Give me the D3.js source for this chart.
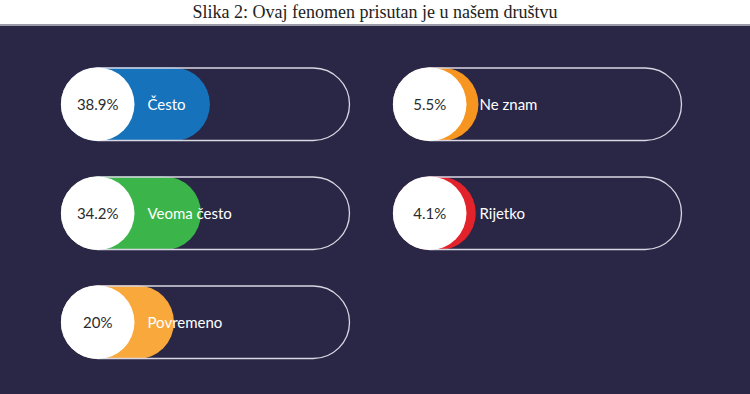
<!DOCTYPE html>
<html>
<head>
<meta charset="utf-8">
<script src="https://cdn.jsdelivr.net/npm/d3@7"></script>
<style>
  html, body { margin: 0; padding: 0; background: #fff; }
  svg { display: block; }
</style>
</head>
<body>
<div id="chart"></div>
<script>
// answers, in the order they are laid out (column by column)
const categories = ["Često", "Veoma često", "Povremeno", "Ne znam", "Rijetko"];
const values = [38.9, 34.2, 20, 5.5, 4.1];
const valueLabels = ["38.9%", "34.2%", "20%", "5.5%", "4.1%"];
const colors = ["#1673bb", "#3bb54a", "#f9a83c", "#f6951f", "#e2232b"];

const title = "Slika 2: Ovaj fenomen prisutan je u našem društvu";

const width = 750, height = 394;
const pillW = 289, pillH = 73.5, r = pillH / 2;
const rowsPerCol = 3;

const svg = d3.select("#chart").append("svg")
    .attr("width", width)
    .attr("height", height);

svg.append("rect")
    .attr("width", width)
    .attr("height", height)
    .attr("fill", "#fff");

svg.append("text")
    .attr("x", width / 2)
    .attr("y", 17.5)
    .attr("text-anchor", "middle")
    .attr("font-family", "'Liberation Serif', serif")
    .attr("font-size", 18)
    .attr("fill", "#222")
    .text(title);

svg.append("rect")
    .attr("y", 24)
    .attr("width", width)
    .attr("height", 2)
    .attr("fill", "#9a99aa");

svg.append("rect")
    .attr("y", 26)
    .attr("width", width)
    .attr("height", height - 26)
    .attr("fill", "#2a2746");

// grid placement
const xCol = d3.scalePoint().domain([0, 1]).range([61, 393]);
const yRow = d3.scalePoint().domain([0, 1, 2]).range([67.5, 285.5]);
// fill length, measured from the left end of the pill
const w = d3.scaleLinear().domain([0, 100]).range([75, 265]);

const items = categories.map((c, i) => ({
    name: c, value: values[i], label: valueLabels[i], color: colors[i],
    col: Math.floor(i / rowsPerCol), row: i % rowsPerCol
}));

const g = svg.selectAll(".item")
    .data(items)
    .enter().append("g")
    .attr("class", "item")
    .attr("transform", d => `translate(${xCol(d.col)},${yRow(d.row)})`);

g.append("rect")
    .attr("width", d => w(d.value))
    .attr("height", pillH)
    .attr("rx", r)
    .attr("fill", d => d.color);

g.append("rect")
    .attr("x", 0.5)
    .attr("y", 0.5)
    .attr("width", pillW - 1)
    .attr("height", pillH - 1)
    .attr("rx", r - 0.5)
    .attr("fill", "none")
    .attr("stroke", "#d9d7e3")
    .attr("stroke-width", 1.3);

g.append("circle")
    .attr("cx", r)
    .attr("cy", r)
    .attr("r", r)
    .attr("fill", "#fff");

g.append("text")
    .attr("x", r)
    .attr("y", r + 6)
    .attr("text-anchor", "middle")
    .attr("font-family", "Lato, sans-serif")
    .attr("font-size", 15)
    .attr("fill", "#2b2b2b")
    .text(d => d.label);

g.append("text")
    .attr("x", 2 * r + 13)
    .attr("y", r + 6)
    .attr("font-family", "Lato, sans-serif")
    .attr("font-size", 15)
    .attr("fill", "#fff")
    .text(d => d.name);
</script>
</body>
</html>
